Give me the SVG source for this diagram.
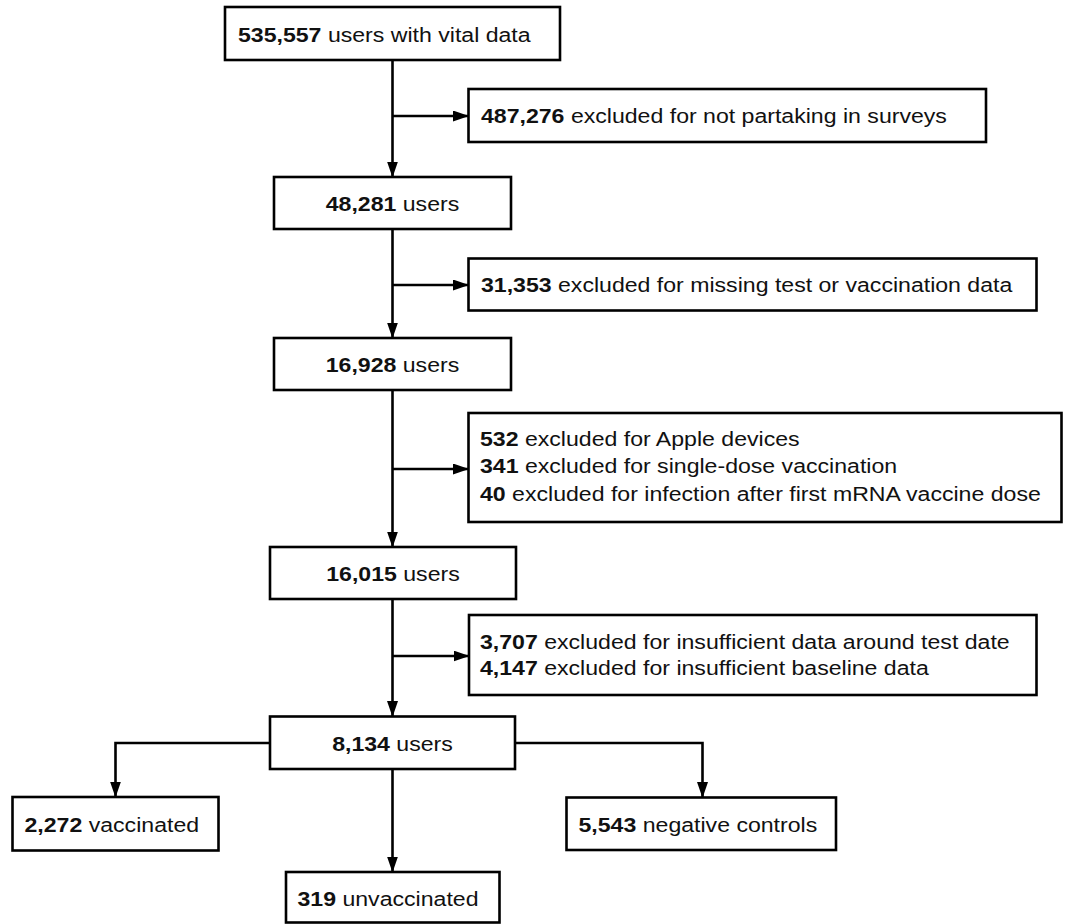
<svg xmlns="http://www.w3.org/2000/svg" width="1067" height="924" viewBox="0 0 1067 924">
<style>
  .box { fill: #ffffff; stroke: #000000; stroke-width: 2.6; }
  .conn { fill: none; stroke: #000000; stroke-width: 2.6; }
  text { font-family: "Liberation Sans", Arial, sans-serif; font-size: 21px; fill: #111111; }
  .c { text-anchor: middle; }
  .b { font-weight: bold; }
</style>
<defs>
  <marker id="arr" markerUnits="userSpaceOnUse" markerWidth="17" markerHeight="12" refX="15.5" refY="5.5" orient="auto">
    <path d="M0,0 L16,5.5 L0,11 Z" fill="#000000"/>
  </marker>
</defs>
<rect width="1067" height="924" fill="#ffffff"/>
<g id="connectors">
  <path class="conn" d="M392.5,60 V177" marker-end="url(#arr)"/>
  <path class="conn" d="M392.5,116 H468.5" marker-end="url(#arr)"/>
  <path class="conn" d="M392.5,229 V338" marker-end="url(#arr)"/>
  <path class="conn" d="M392.5,285 H468.5" marker-end="url(#arr)"/>
  <path class="conn" d="M392.5,390 V547" marker-end="url(#arr)"/>
  <path class="conn" d="M392.5,469 H468.5" marker-end="url(#arr)"/>
  <path class="conn" d="M392.5,599 V716.5" marker-end="url(#arr)"/>
  <path class="conn" d="M392.5,656 H469" marker-end="url(#arr)"/>
  <path class="conn" d="M270,743 H115.5 V797" marker-end="url(#arr)"/>
  <path class="conn" d="M392.5,769 V872" marker-end="url(#arr)"/>
  <path class="conn" d="M515,743 H702.5 V797.5" marker-end="url(#arr)"/>
</g>
<g id="n1">
  <rect class="box" x="225" y="7" width="335" height="53"/>
  <text transform="translate(238,42) scale(1.1,1)"><tspan class="b">535,557</tspan> users with vital data</text>
</g>
<g id="x1">
  <rect class="box" x="468.5" y="89" width="517.5" height="53"/>
  <text transform="translate(481,123) scale(1.1,1)"><tspan class="b">487,276</tspan> excluded for not partaking in surveys</text>
</g>
<g id="n2">
  <rect class="box" x="274" y="177" width="237" height="52"/>
  <text class="c" transform="translate(392.5,210.5) scale(1.1,1)"><tspan class="b">48,281</tspan> users</text>
</g>
<g id="x2">
  <rect class="box" x="468.5" y="258.5" width="568" height="52"/>
  <text transform="translate(481,292) scale(1.1,1)"><tspan class="b">31,353</tspan> excluded for missing test or vaccination data</text>
</g>
<g id="n3">
  <rect class="box" x="274" y="338" width="237" height="52"/>
  <text class="c" transform="translate(392.5,371.5) scale(1.1,1)"><tspan class="b">16,928</tspan> users</text>
</g>
<g id="x3">
  <rect class="box" x="468.5" y="413" width="593" height="109"/>
  <text transform="translate(480,446) scale(1.1,1)"><tspan class="b">532</tspan> excluded for Apple devices</text>
  <text transform="translate(480,473.3) scale(1.1,1)"><tspan class="b">341</tspan> excluded for single-dose vaccination</text>
  <text transform="translate(480,500.7) scale(1.1,1)"><tspan class="b">40</tspan> excluded for infection after first mRNA vaccine dose</text>
</g>
<g id="n4">
  <rect class="box" x="270" y="547" width="246" height="52"/>
  <text class="c" transform="translate(393,580.5) scale(1.1,1)"><tspan class="b">16,015</tspan> users</text>
</g>
<g id="x4">
  <rect class="box" x="469" y="615" width="567.5" height="80"/>
  <text transform="translate(480,649) scale(1.1,1)"><tspan class="b">3,707</tspan> excluded for insufficient data around test date</text>
  <text transform="translate(480,675) scale(1.1,1)"><tspan class="b">4,147</tspan> excluded for insufficient baseline data</text>
</g>
<g id="n5">
  <rect class="box" x="270" y="716.5" width="245" height="52.5"/>
  <text class="c" transform="translate(392.5,750.5) scale(1.1,1)"><tspan class="b">8,134</tspan> users</text>
</g>
<g id="n6">
  <rect class="box" x="12.5" y="797" width="206" height="53.5"/>
  <text transform="translate(24.5,831.5) scale(1.1,1)"><tspan class="b">2,272</tspan> vaccinated</text>
</g>
<g id="n7">
  <rect class="box" x="286" y="872" width="213.5" height="50.5"/>
  <text transform="translate(297.5,906) scale(1.1,1)"><tspan class="b">319</tspan> unvaccinated</text>
</g>
<g id="n8">
  <rect class="box" x="566.5" y="797.5" width="269.5" height="52.5"/>
  <text transform="translate(578.5,831.5) scale(1.1,1)"><tspan class="b">5,543</tspan> negative controls</text>
</g>
</svg>
